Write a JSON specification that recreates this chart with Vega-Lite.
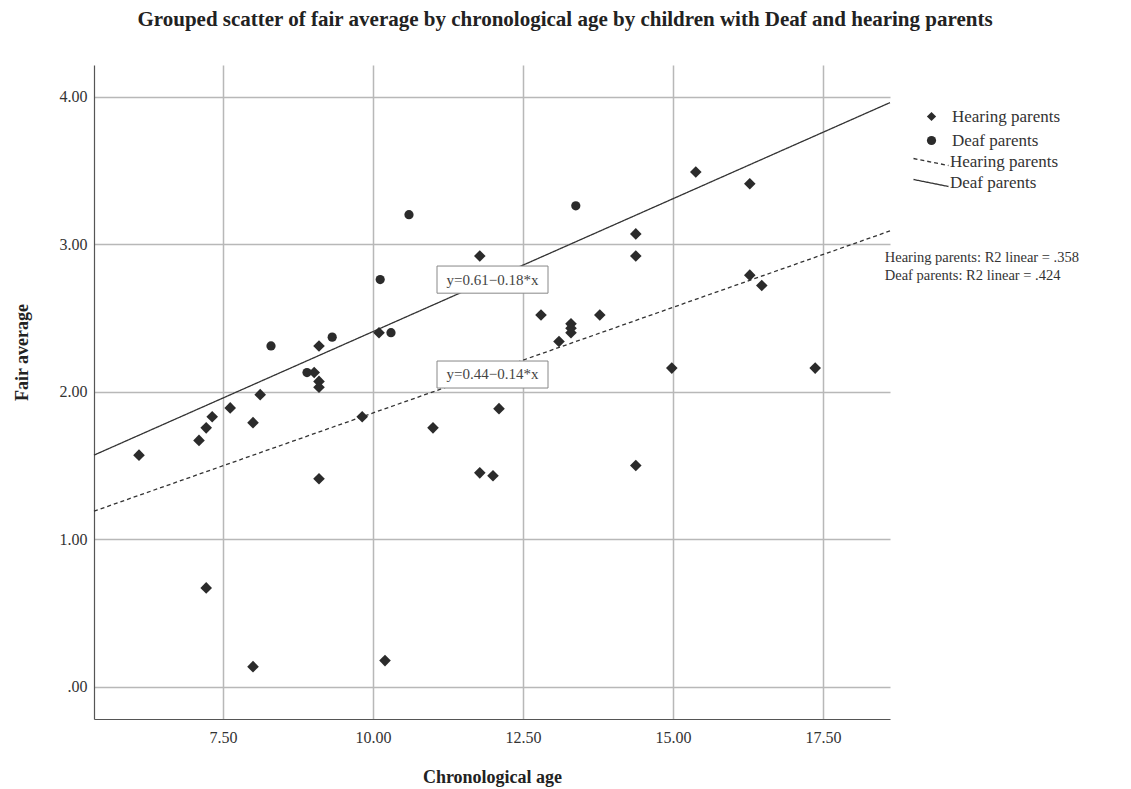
{
  "$schema": "https://vega.github.io/schema/vega-lite/v6.json",
  "width": 796,
  "height": 654,
  "autosize": {"type": "none"},
  "padding": {"left": 94, "top": 65, "right": 241, "bottom": 70},
  "background": "white",
  "title": {
    "text": "Grouped scatter of fair average by chronological age by children with Deaf and hearing parents",
    "font": "Liberation Serif",
    "fontSize": 21,
    "fontWeight": "bold",
    "color": "#222222",
    "anchor": "middle",
    "dx": 73,
    "offset": 35
  },
  "config": {
    "view": {"stroke": null},
    "font": "Liberation Serif"
  },
  "datasets": {
    "points": [
      {"age": 6.1, "fair": 1.57, "group": "Hearing parents"},
      {"age": 7.1, "fair": 1.67, "group": "Hearing parents"},
      {"age": 7.22, "fair": 1.755, "group": "Hearing parents"},
      {"age": 7.32, "fair": 1.83, "group": "Hearing parents"},
      {"age": 7.62, "fair": 1.89, "group": "Hearing parents"},
      {"age": 8.12, "fair": 1.98, "group": "Hearing parents"},
      {"age": 8.0, "fair": 1.79, "group": "Hearing parents"},
      {"age": 9.02, "fair": 2.13, "group": "Hearing parents"},
      {"age": 9.1, "fair": 2.31, "group": "Hearing parents"},
      {"age": 9.1, "fair": 2.07, "group": "Hearing parents"},
      {"age": 9.1, "fair": 2.03, "group": "Hearing parents"},
      {"age": 9.82, "fair": 1.83, "group": "Hearing parents"},
      {"age": 10.1, "fair": 2.40, "group": "Hearing parents"},
      {"age": 9.1, "fair": 1.41, "group": "Hearing parents"},
      {"age": 11.78, "fair": 2.92, "group": "Hearing parents"},
      {"age": 12.8, "fair": 2.52, "group": "Hearing parents"},
      {"age": 13.78, "fair": 2.52, "group": "Hearing parents"},
      {"age": 13.3, "fair": 2.46, "group": "Hearing parents"},
      {"age": 13.3, "fair": 2.43, "group": "Hearing parents"},
      {"age": 13.3, "fair": 2.40, "group": "Hearing parents"},
      {"age": 13.1, "fair": 2.34, "group": "Hearing parents"},
      {"age": 12.1, "fair": 1.885, "group": "Hearing parents"},
      {"age": 11.0, "fair": 1.755, "group": "Hearing parents"},
      {"age": 11.78, "fair": 1.45, "group": "Hearing parents"},
      {"age": 12.0, "fair": 1.43, "group": "Hearing parents"},
      {"age": 14.38, "fair": 1.50, "group": "Hearing parents"},
      {"age": 14.38, "fair": 3.07, "group": "Hearing parents"},
      {"age": 14.38, "fair": 2.92, "group": "Hearing parents"},
      {"age": 15.38, "fair": 3.49, "group": "Hearing parents"},
      {"age": 16.28, "fair": 3.41, "group": "Hearing parents"},
      {"age": 16.28, "fair": 2.79, "group": "Hearing parents"},
      {"age": 16.48, "fair": 2.72, "group": "Hearing parents"},
      {"age": 14.98, "fair": 2.16, "group": "Hearing parents"},
      {"age": 17.37, "fair": 2.16, "group": "Hearing parents"},
      {"age": 7.22, "fair": 0.67, "group": "Hearing parents"},
      {"age": 8.0, "fair": 0.136, "group": "Hearing parents"},
      {"age": 10.2, "fair": 0.177, "group": "Hearing parents"},
      {"age": 8.3, "fair": 2.31, "group": "Deaf parents"},
      {"age": 8.9, "fair": 2.13, "group": "Deaf parents"},
      {"age": 9.32, "fair": 2.37, "group": "Deaf parents"},
      {"age": 10.3, "fair": 2.40, "group": "Deaf parents"},
      {"age": 10.12, "fair": 2.76, "group": "Deaf parents"},
      {"age": 10.6, "fair": 3.20, "group": "Deaf parents"},
      {"age": 13.38, "fair": 3.26, "group": "Deaf parents"}
    ],
    "fits": [
      {"age": 5.35, "fair": 1.19, "line": "Hearing parents "},
      {"age": 18.617, "fair": 3.09, "line": "Hearing parents "},
      {"age": 5.35, "fair": 1.57, "line": "Deaf parents "},
      {"age": 18.617, "fair": 3.96, "line": "Deaf parents "}
    ],
    "boxes": [
      {"x1": 11.067, "x2": 12.917, "y1": 2.668, "y2": 2.852, "xc": 11.992, "yc": 2.76, "label": "y=0.61−0.18*x"},
      {"x1": 11.067, "x2": 12.917, "y1": 2.025, "y2": 2.208, "xc": 11.992, "yc": 2.117, "label": "y=0.44−0.14*x"}
    ],
    "notes": [
      {"age": 18.53, "fair": 2.906, "label": "Hearing parents: R2 linear = .358"},
      {"age": 18.53, "fair": 2.783, "label": "Deaf parents: R2 linear = .424"}
    ]
  },
  "layer": [
    {
      "data": {"name": "fits"},
      "mark": {"type": "line", "color": "#333333", "strokeWidth": 1.3},
      "encoding": {
        "x": {
          "field": "age", "type": "quantitative",
          "scale": {"domain": [5.35, 18.617], "nice": false, "zero": false},
          "axis": {
            "values": [7.5, 10, 12.5, 15, 17.5],
            "format": ".2f",
            "title": "Chronological age",
            "titleFont": "Liberation Serif",
            "titleFontSize": 18,
            "titleFontWeight": "bold",
            "titleColor": "#222222",
            "titlePadding": 23,
            "labelFont": "Liberation Serif",
            "labelFontSize": 16,
            "labelColor": "#333333",
            "labelPadding": 10,
            "ticks": false,
            "grid": true,
            "gridColor": "#b8b8b8",
            "gridWidth": 1.5,
            "domainColor": "#555555",
            "domainWidth": 1.2
          }
        },
        "y": {
          "field": "fair", "type": "quantitative",
          "scale": {"domain": [-0.219, 4.215], "nice": false, "zero": false},
          "axis": {
            "values": [0, 1, 2, 3, 4],
            "labelExpr": "datum.value == 0 ? '.00' : format(datum.value, '.2f')",
            "title": "Fair average",
            "titleFont": "Liberation Serif",
            "titleFontSize": 18,
            "titleFontWeight": "bold",
            "titleColor": "#222222",
            "titleX": -72,
            "titleY": 287,
            "titleBaseline": "middle",
            "titleAlign": "center",
            "titleAngle": 270,
            "labelFont": "Liberation Serif",
            "labelFontSize": 16,
            "labelColor": "#333333",
            "labelPadding": 7,
            "ticks": false,
            "grid": true,
            "gridColor": "#b8b8b8",
            "gridWidth": 1.5,
            "domainColor": "#555555",
            "domainWidth": 1.2
          }
        },
        "strokeDash": {
          "field": "line", "type": "nominal",
          "scale": {"domain": ["Hearing parents ", "Deaf parents "], "range": [[4, 3], [1, 0]]},
          "legend": {
            "title": null,
            "orient": "none",
            "legendX": 826,
            "legendY": 86,
            "symbolType": "M-1.75,-0.35L1.75,0.35",
            "symbolSize": 400,
            "symbolStrokeColor": "#333333",
            "symbolStrokeWidth": 1.3,
            "labelFont": "Liberation Serif",
            "labelFontSize": 17,
            "labelColor": "#333333",
            "labelOffset": 8,
            "rowPadding": 2
          }
        }
      }
    },
    {
      "data": {"name": "boxes"},
      "mark": {"type": "rect", "fill": "white", "stroke": "#888888", "strokeWidth": 1},
      "encoding": {
        "x": {"field": "x1", "type": "quantitative"},
        "x2": {"field": "x2"},
        "y": {"field": "y1", "type": "quantitative"},
        "y2": {"field": "y2"}
      }
    },
    {
      "data": {"name": "boxes"},
      "mark": {"type": "text", "font": "Liberation Serif", "fontSize": 15, "color": "#444444", "align": "center", "baseline": "middle"},
      "encoding": {
        "x": {"field": "xc", "type": "quantitative"},
        "y": {"field": "yc", "type": "quantitative"},
        "text": {"field": "label"}
      }
    },
    {
      "data": {"name": "notes"},
      "mark": {"type": "text", "font": "Liberation Serif", "fontSize": 14.5, "color": "#333333", "align": "left", "baseline": "middle", "clip": false},
      "encoding": {
        "x": {"field": "age", "type": "quantitative"},
        "y": {"field": "fair", "type": "quantitative"},
        "text": {"field": "label"}
      }
    },
    {
      "data": {"name": "points"},
      "transform": [{"filter": "datum.group == 'Hearing parents'"}],
      "mark": {"type": "point", "filled": true, "color": "#2b2b2b", "opacity": 1, "size": 135},
      "encoding": {
        "x": {"field": "age", "type": "quantitative"},
        "y": {"field": "fair", "type": "quantitative"},
        "shape": {
          "field": "group", "type": "nominal",
          "scale": {"domain": ["Hearing parents", "Deaf parents"], "range": ["diamond", "circle"]},
          "legend": {
            "title": null,
            "orient": "none",
            "legendX": 829,
            "legendY": 43,
            "symbolSize": 85,
            "symbolFillColor": "#2b2b2b",
            "symbolStrokeWidth": 0,
            "labelFont": "Liberation Serif",
            "labelFontSize": 17,
            "labelColor": "#333333",
            "labelOffset": 12,
            "rowPadding": 6
          }
        }
      }
    },
    {
      "data": {"name": "points"},
      "transform": [{"filter": "datum.group == 'Deaf parents'"}],
      "mark": {"type": "point", "filled": true, "color": "#2b2b2b", "opacity": 1, "size": 85},
      "encoding": {
        "x": {"field": "age", "type": "quantitative"},
        "y": {"field": "fair", "type": "quantitative"},
        "shape": {"field": "group", "type": "nominal"}
      }
    }
  ]
}
